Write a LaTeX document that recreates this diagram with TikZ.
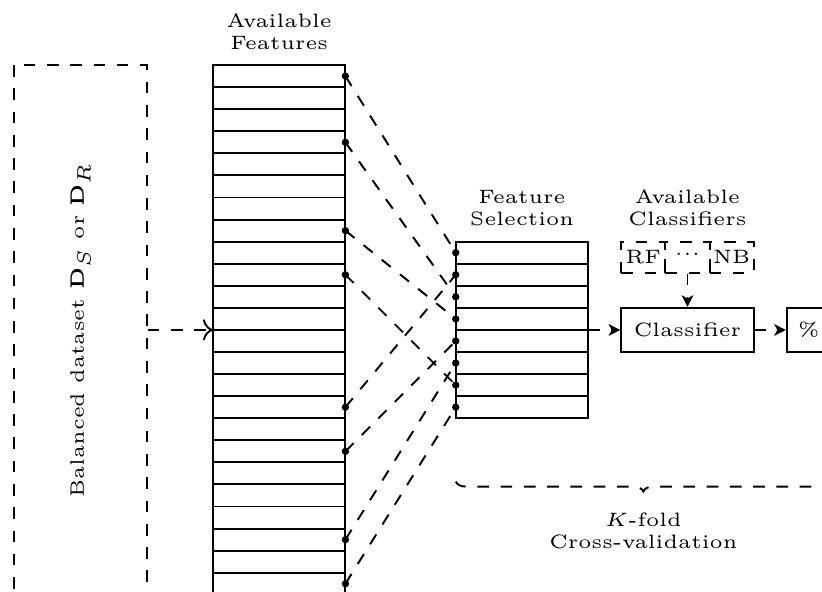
\documentclass[tikz,border=0pt]{standalone}
\usetikzlibrary{arrows.meta,decorations.pathreplacing}
\begin{document}
\begin{tikzpicture}[
  line width=0.5pt,
  every node/.style={font=\fontsize{5}{5.6}\selectfont},
  cell/.style={draw, minimum width=1.2cm, minimum height=0.2cm, inner sep=0pt, outer sep=0pt},
  frame/.style={inner sep=0pt, outer sep=0pt},
  lbl/.style={align=center, inner sep=0pt},
  link/.style={dashed},
  flow/.style={dashed, -{Stealth[length=3pt,width=3pt,inset=0.8pt]}},
  option/.style={draw, dashed, minimum width=0.4cm, minimum height=0.28cm, inner sep=0pt},
  solidbox/.style={draw, inner sep=0pt},
]
\useasboundingbox (-1.930,-2.374) rectangle (5.519,2.990);
\clip (-1.930,-2.374) rectangle (5.519,2.990);

% dataset
\node[draw, dashed, rotate=90, minimum width=4.8cm, minimum height=1.2cm, inner sep=0pt] (ds) at (-1.2,0) {Balanced dataset $\mathbf{D}_S$ or $\mathbf{D}_R$};

% available features
\node[frame, minimum width=1.2cm, minimum height=4.8cm] (feat) at (0.6,0) {};
\foreach \i in {0,...,23} \node[cell] (f\i) at (0.6, 2.3-0.2*\i) {};
\node[lbl, anchor=south] (featlbl) at ([yshift=0.135cm]feat.north) {Available\\Features};

% feature selection
\node[frame, minimum width=1.2cm, minimum height=1.6cm] (fs) at (2.8,0) {};
\foreach \j in {0,...,7} \node[cell] (s\j) at (2.8, 0.7-0.2*\j) {};
\node[lbl, anchor=south] (fslbl) at ([yshift=0.135cm]fs.north) {Feature\\Selection};

% links
\foreach \a/\b in {0/0,3/2,7/3,9/6,15/1,17/4,21/5,23/7} {
  \draw[link] (f\a.east) -- (s\b.west);
  \fill (f\a.east) circle (0.95pt);
  \fill (s\b.west) circle (0.95pt);
}

% classifiers
\node[solidbox, minimum width=1.2cm, minimum height=0.4cm] (clf) at (4.3,0) {Classifier};
\node[solidbox, minimum width=0.4cm, minimum height=0.4cm] (pct) at (5.4,0) {\%};
\node[option] (rf) at (3.9,0.66) {RF};
\node[option] (oth) at (4.3,0.66) {\raisebox{1.3pt}{.\kern0.2pt.\kern0.2pt.}};
\node[option] (nb) at (4.7,0.66) {NB};
\node[lbl, anchor=south] (clflbl) at (4.3,0.935) {Available\\Classifiers};

% arrows
\draw[dashed, -{To[length=2.6pt,width=5.5pt]}] (ds) -- (feat);
\draw[flow] (fs) -- (clf);
\draw[flow] (clf) -- (pct);
\draw[flow] (oth) -- (clf);

% cross-validation
\coordinate (kl) at (2.2,-1.375);
\coordinate (kr) at (5.6,-1.375);
\draw[dashed, decorate, decoration={brace, mirror, amplitude=2.5pt}] (kl) -- (kr);
\node[lbl, anchor=north] (kfold) at (3.9,-1.65) {$K$-fold\\Cross-validation};
\end{tikzpicture}
\end{document}
